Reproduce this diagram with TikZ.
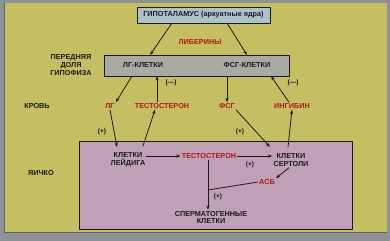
\documentclass[tikz,border=0pt]{standalone}
\usepackage{fontspec}
\setmainfont{Liberation Sans}
\usetikzlibrary{arrows.meta}
\definecolor{outergray}{RGB}{142,146,150}
\definecolor{panelyellow}{RGB}{198,190,98}
\definecolor{hypoblue}{RGB}{172,194,202}
\definecolor{pitgray}{RGB}{168,170,164}
\definecolor{testispink}{RGB}{192,160,182}
\definecolor{hormred}{RGB}{175,25,25}
\definecolor{inkdark}{RGB}{25,25,30}
\tikzset{
  lbl/.style={font=\fontsize{7.3}{8}\selectfont\bfseries, text=inkdark, align=center, inner sep=1pt},
  horm/.style={lbl, text=hormred},
  sgn/.style={lbl, font=\fontsize{6.6}{7}\selectfont\bfseries},
  arr/.style={-{Stealth[length=4.5pt,width=3.2pt]}, line width=0.8pt, draw=inkdark},
  ln/.style={line width=0.8pt, draw=inkdark}
}
\begin{document}
\begin{tikzpicture}[x=1bp,y=-1bp]
\fill[outergray] (0,0) rectangle (390,241);
\useasboundingbox (0,0) rectangle (390,241);
\fill[panelyellow] (4,3) rectangle (387,232);
\draw[inkdark!70, line width=0.8pt] (4,3) -- (4,232) -- (387,232);

% boxes
\draw[fill=hypoblue, draw=inkdark, line width=0.7pt] (137,7) rectangle (270,23);
\draw[fill=pitgray, draw=inkdark, line width=0.7pt] (104,55) rectangle (289,76);
\draw[fill=testispink, draw=inkdark, line width=0.7pt] (79,141) rectangle (352,229);

% texts
\node[lbl] (hypo) at (203.5,15) {ГИПОТАЛАМУС (аркуатные ядра)};
\node[horm] (lib) at (200,42) {ЛИБЕРИНЫ};
\node[lbl] (pitlab) at (71,65) {ПЕРЕДНЯЯ\\ДОЛЯ\\ГИПОФИЗА};
\node[lbl] (lhcell) at (143,65) {ЛГ-КЛЕТКИ};
\node[lbl] (fshcell) at (247,65) {ФСГ-КЛЕТКИ};
\node[lbl] (blood) at (37,106) {КРОВЬ};
\node[horm] (lh) at (110,106) {ЛГ};
\node[horm] (tblood) at (162,106) {ТЕСТОСТЕРОН};
\node[horm] (fsh) at (227,106) {ФСГ};
\node[horm] (inh) at (292,106) {ИНГИБИН};
\node[lbl] (testis) at (41,173) {ЯИЧКО};
\node[lbl] (leyd) at (128,160) {КЛЕТКИ\\ЛЕЙДИГА};
\node[horm] (ttest) at (209,156) {ТЕСТОСТЕРОН};
\node[lbl] (sert) at (291,160) {КЛЕТКИ\\СЕРТОЛИ};
\node[horm] (abp) at (267,182) {АСБ};
\node[lbl] (sperm) at (211,217.5) {СПЕРМАТОГЕННЫЕ\\КЛЕТКИ};

% signs
\node[sgn] (m1) at (171,83) {(---)};
\node[sgn] (m2) at (293,83) {(---)};
\node[sgn] (p1) at (102,132) {(+)};
\node[sgn] (p2) at (240,132) {(+)};
\node[sgn] (p3) at (250,165) {(+)};
\node[sgn] (p4) at (218,197) {(+)};

% connector points
\coordinate (hypoL) at (172,23);
\coordinate (hypoR) at (227,23);
\coordinate (lhcellT) at (150,55);
\coordinate (fshcellT) at (247,55);
\coordinate (pitA) at (132,76);
\coordinate (pitB) at (157,76);
\coordinate (pitC) at (227,76);
\coordinate (pitD) at (271,76);
\coordinate (join) at (208,190);

% hypothalamus -> pituitary
\draw[arr] (hypoL) -- (lhcellT);
\draw[arr] (hypoR) -- (fshcellT);

% pituitary <-> blood
\draw[arr] (pitA) -- (lh.north east);
\draw[arr] (tblood.north -| pitB) -- (pitB);
\draw[arr] (pitC) -- (fsh.north);
\draw[arr] (inh.north) ++(-3,0) -- (pitD);

% blood <-> testis
\draw[arr] (lh.south) -- (117,147);
\draw[arr] (143,146) -- (tblood.south -| 155,0);
\draw[arr] (fsh.south east) -- (270,147);
\draw[arr] (288,147) -- (inh.south);

% inside testis
\draw[arr] (leyd.east |- ttest) -- (ttest.west);
\draw[arr] (ttest.east) -- (sert.west |- ttest);
\draw[arr] (sert.south) ++(-2,0) -- (abp.north east);
\draw[ln] (abp.west) -- (join);
\draw[arr] (ttest.south -| join) -- (sperm.north -| join);
\end{tikzpicture}
\end{document}
